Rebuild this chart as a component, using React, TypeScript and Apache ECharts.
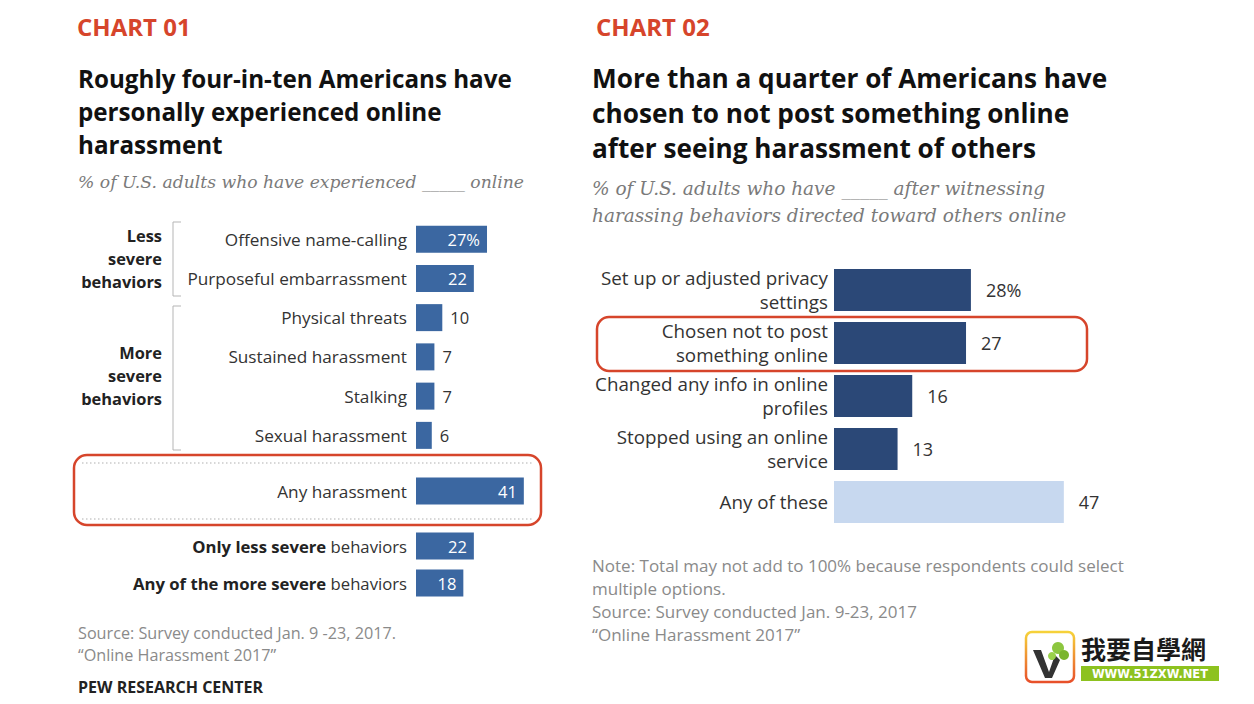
import React, { useEffect, useRef } from "react";
import * as echarts from "echarts";

const leftTopCats = [
  "Offensive name-calling",
  "Purposeful embarrassment",
  "Physical threats",
  "Sustained harassment",
  "Stalking",
  "Sexual harassment",
];
const leftTopVals = [27, 22, 10, 7, 7, 6];
const leftMidCats = ["Any harassment"];
const leftMidVals = [41];
const leftBotCats = ["Only less severe behaviors", "Any of the more severe behaviors"];
const leftBotVals = [22, 18];

const rightCats = [
  "Set up or adjusted privacy\nsettings",
  "Chosen not to post\nsomething online",
  "Changed any info in online\nprofiles",
  "Stopped using an online\nservice",
  "Any of these",
];
const rightVals = [28, 27, 16, 13, 47];

const FONT = "'Open Sans', Roboto, sans-serif";
const LBLUE = "#3b67a1";
const NAVY = "#2b4877";
const LIGHT = "#c7d8ef";
const RED = "#d6452b";
const GRAY = "#8a8a8a";

function leftData(vals: number[]) {
  return vals.map((v) => ({
    value: v,
    label:
      v >= 15
        ? { position: "insideRight", color: "#ffffff", distance: 7 }
        : { position: "right", color: "#333333", distance: 8 },
  }));
}

function leftLabelFormatter(value: string) {
  if (value.startsWith("Only less severe")) return "{b|Only less severe}{n| behaviors}";
  if (value.startsWith("Any of the more severe")) return "{b|Any of the more severe}{n| behaviors}";
  return value;
}

export default function App() {
  const ref = useRef<HTMLDivElement>(null);
  useEffect(() => {
    if (!ref.current) return;
    const chart = echarts.init(ref.current, undefined, { renderer: "svg" });
    const yLeftCommon = {
      type: "category",
      inverse: true,
      axisLine: { show: false },
      axisTick: { show: false },
      splitLine: { show: false },
      axisLabel: {
        margin: 9,
        fontFamily: FONT,
        fontSize: 17.2,
        color: "#333333",
        formatter: leftLabelFormatter,
        rich: {
          b: { fontFamily: FONT, fontSize: 16.7, fontWeight: "bold", color: "#222222" },
          n: { fontFamily: FONT, fontSize: 16.7, color: "#333333" },
        },
      },
    };
    const xLeft = {
      type: "value",
      min: 0,
      max: 50,
      show: false,
    };
    const leftSeriesLabel = {
      show: true,
      fontFamily: FONT,
      fontSize: 16.5,
      formatter: (p: any) => (p.seriesIndex === 0 && p.dataIndex === 0 ? p.value + "%" : String(p.value)),
    };

    const text = (t: string, x: number, y: number, font: string, fill: string, extra: any = {}) => ({
      type: "text",
      x,
      y,
      silent: true,
      style: { text: t, font, fill, verticalAlign: "middle", ...extra },
    });

    const graphic: any[] = [
      text("CHART 01", 77, 26, `bold 24px ${FONT}`, RED),
      text("CHART 02", 596, 26, `bold 24px ${FONT}`, RED),
      text(
        "Roughly four-in-ten Americans have\npersonally experienced online\nharassment",
        78,
        111,
        `bold 24.2px ${FONT}`,
        "#111111",
        { lineHeight: 33 }
      ),
      text(
        "More than a quarter of Americans have\nchosen to not post something online\nafter seeing harassment of others",
        592,
        113,
        `bold 26.2px ${FONT}`,
        "#111111",
        { lineHeight: 35 }
      ),
      text(
        "% of U.S. adults who have experienced _____ online",
        78,
        182,
        `italic 17.2px 'DejaVu Serif', serif`,
        "#7a7a7a"
      ),
      text(
        "% of U.S. adults who have _____ after witnessing\nharassing behaviors directed toward others online",
        592,
        202,
        `italic 18.5px 'DejaVu Serif', serif`,
        "#7a7a7a",
        { lineHeight: 27 }
      ),
      text("Less\nsevere\nbehaviors", 162, 258, `bold 16.4px ${FONT}`, "#222222", {
        align: "right",
        lineHeight: 23,
      }),
      text("More\nsevere\nbehaviors", 162, 375, `bold 16.4px ${FONT}`, "#222222", {
        align: "right",
        lineHeight: 23,
      }),
      {
        type: "polyline",
        silent: true,
        shape: { points: [[181, 222], [173, 222], [173, 296], [181, 296]] },
        style: { stroke: "#b5b5b5", lineWidth: 1, fill: "none" },
      },
      {
        type: "polyline",
        silent: true,
        shape: { points: [[181, 306], [173, 306], [173, 450], [181, 450]] },
        style: { stroke: "#b5b5b5", lineWidth: 1, fill: "none" },
      },
      {
        type: "line",
        silent: true,
        shape: { x1: 82, y1: 463, x2: 534, y2: 463 },
        style: { stroke: "#b0b0b0", lineWidth: 1.2, lineDash: [1.5, 2.5] },
      },
      {
        type: "line",
        silent: true,
        shape: { x1: 82, y1: 519, x2: 534, y2: 519 },
        style: { stroke: "#b0b0b0", lineWidth: 1.2, lineDash: [1.5, 2.5] },
      },
      {
        type: "rect",
        silent: true,
        shape: { x: 74, y: 455, width: 467, height: 70, r: 13 },
        style: { fill: "none", stroke: RED, lineWidth: 2.5 },
      },
      {
        type: "rect",
        silent: true,
        shape: { x: 597, y: 317, width: 490, height: 54, r: 12 },
        style: { fill: "none", stroke: RED, lineWidth: 2.5 },
      },
      text(
        "Source: Survey conducted Jan. 9 -23, 2017.\n\u201COnline Harassment 2017\u201D",
        78,
        644,
        `16.2px ${FONT}`,
        GRAY,
        { lineHeight: 22 }
      ),
      text("PEW RESEARCH CENTER", 78, 687, `bold 16px ${FONT}`, "#222222"),
      text(
        "Note: Total may not add to 100% because respondents could select\nmultiple options.\nSource: Survey conducted Jan. 9-23, 2017\n\u201COnline Harassment 2017\u201D",
        592,
        600,
        `17px ${FONT}`,
        GRAY,
        { lineHeight: 23 }
      ),
      // logo
      {
        type: "rect",
        silent: true,
        shape: { x: 1026, y: 632, width: 48, height: 50, r: 6 },
        style: {
          fill: "#ffffff",
          stroke: new echarts.graphic.LinearGradient(0, 0, 0, 1, [
            { offset: 0, color: "#f6d23a" },
            { offset: 1, color: "#e8502a" },
          ]),
          lineWidth: 2.5,
        },
      },
      {
        type: "polygon",
        silent: true,
        shape: { points: [[1033, 650], [1041, 650], [1049, 672], [1055, 655], [1060, 660], [1052, 678], [1045, 678]] },
        style: { fill: "#333333" },
      },
      { type: "circle", silent: true, shape: { cx: 1058, cy: 648, r: 6 }, style: { fill: "#8cc63f" } },
      { type: "circle", silent: true, shape: { cx: 1064, cy: 655, r: 5 }, style: { fill: "#7ab52e" } },
      { type: "circle", silent: true, shape: { cx: 1052, cy: 656, r: 4 }, style: { fill: "#9ad24a" } },
      text("我要自學網", 1081, 648, `bold 25px 'Noto Sans CJK TC', sans-serif`, "#1a1a1a"),
      {
        type: "rect",
        silent: true,
        shape: { x: 1081, y: 666, width: 138, height: 15 },
        style: { fill: "#8dc21f" },
      },
      text("WWW.51ZXW.NET", 1150, 674, `bold 11.5px 'DejaVu Sans', sans-serif`, "#ffffff", {
        align: "center",
      }),
    ];

    chart.setOption({
      animation: false,
      backgroundColor: "#ffffff",
      grid: [
        { left: 416, top: 219.5, width: 131.5, height: 235.5 },
        { left: 416, top: 471.5, width: 131.5, height: 39 },
        { left: 416, top: 527.5, width: 131.5, height: 74 },
        { left: 834, top: 263.5, width: 244.5, height: 265 },
      ],
      xAxis: [
        { ...xLeft, gridIndex: 0 },
        { ...xLeft, gridIndex: 1 },
        { ...xLeft, gridIndex: 2 },
        { type: "value", min: 0, max: 50, show: false, gridIndex: 3 },
      ],
      yAxis: [
        { ...yLeftCommon, gridIndex: 0, data: leftTopCats },
        { ...yLeftCommon, gridIndex: 1, data: leftMidCats },
        { ...yLeftCommon, gridIndex: 2, data: leftBotCats },
        {
          type: "category",
          inverse: true,
          gridIndex: 3,
          data: rightCats,
          axisLine: { show: false },
          axisTick: { show: false },
          splitLine: { show: false },
          axisLabel: {
            margin: 6,
            fontFamily: FONT,
            fontSize: 18.8,
            color: "#333333",
            lineHeight: 24,
            align: "right",
          },
        },
      ],
      series: [
        {
          type: "bar",
          xAxisIndex: 0,
          yAxisIndex: 0,
          barWidth: 27,
          itemStyle: { color: LBLUE },
          label: leftSeriesLabel,
          data: leftData(leftTopVals),
        },
        {
          type: "bar",
          xAxisIndex: 1,
          yAxisIndex: 1,
          barWidth: 27,
          itemStyle: { color: LBLUE },
          label: leftSeriesLabel,
          data: leftData(leftMidVals),
        },
        {
          type: "bar",
          xAxisIndex: 2,
          yAxisIndex: 2,
          barWidth: 27,
          itemStyle: { color: LBLUE },
          label: leftSeriesLabel,
          data: leftData(leftBotVals),
        },
        {
          type: "bar",
          xAxisIndex: 3,
          yAxisIndex: 3,
          barWidth: 42,
          label: {
            show: true,
            position: "right",
            distance: 15,
            fontFamily: FONT,
            fontSize: 18,
            color: "#333333",
            formatter: (p: any) => (p.dataIndex === 0 ? p.value + "%" : String(p.value)),
          },
          data: rightVals.map((v, i) => ({
            value: v,
            itemStyle: { color: i === rightVals.length - 1 ? LIGHT : NAVY },
          })),
        },
      ],
      graphic,
    });
    return () => chart.dispose();
  }, []);
  return (
    <div
      ref={ref}
      style={{ position: "fixed", left: 0, top: 0, width: 1254, height: 704, background: "#fff" }}
    />
  );
}
